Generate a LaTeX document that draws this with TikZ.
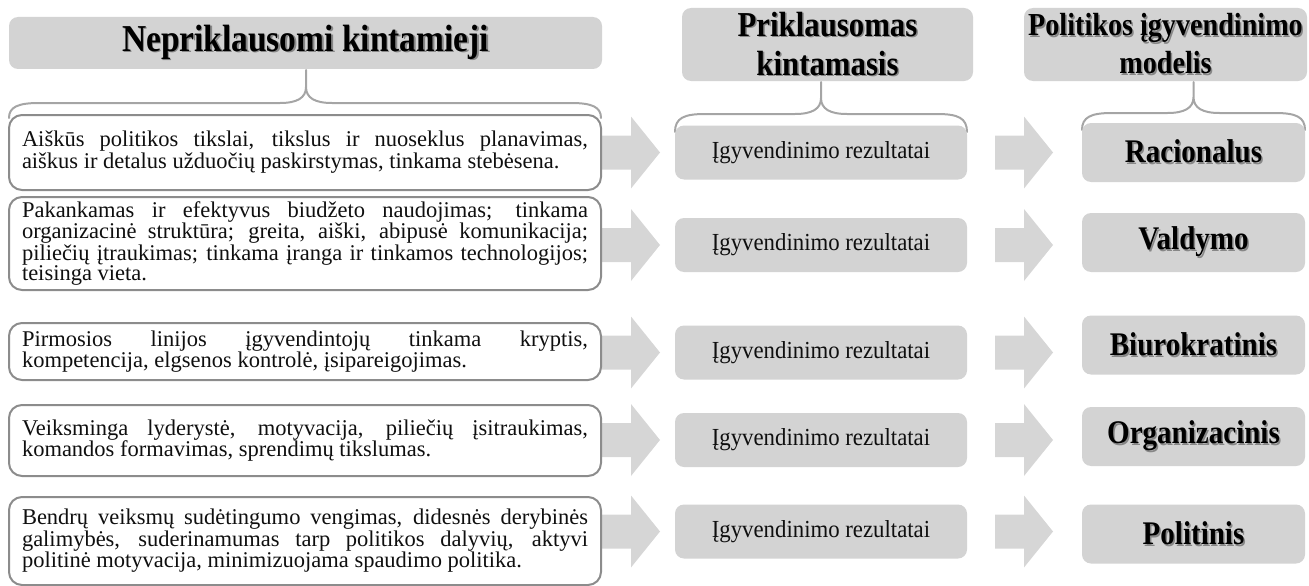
\documentclass[tikz,border=0pt]{standalone}
\usepackage{fontspec}
\setmainfont{Liberation Serif}
\newfontfamily\hdfont{Liberation Serif}[FakeStretch=0.88]
\newfontfamily\midfont{Liberation Serif}[FakeStretch=0.93]
\usetikzlibrary{calc}
\tolerance=10000
\hbadness=10000
\definecolor{boxgray}{RGB}{211,211,211}
\definecolor{arrgray}{RGB}{214,214,214}
\definecolor{edgegray}{RGB}{140,140,140}
\definecolor{bracegray}{RGB}{165,165,165}
\definecolor{txt}{RGB}{15,15,15}
\definecolor{shadowc}{RGB}{135,135,135}
\newcommand\shd[1]{\leavevmode\rlap{\kern1.5pt\raisebox{-1.5pt}{\textcolor{shadowc}{#1}}}#1}
\newcommand\blockarrow[2]{\fill[bigarrow] ($(#1)+(0,-17)$) -- ($(#2)+(-29,-17)$) -- ($(#2)+(-29,-36)$) -- (#2) -- ($(#2)+(-29,36)$) -- ($(#2)+(-29,17)$) -- ($(#1)+(0,17)$) -- cycle;}
% xl xr xt yt yh yb
\newcommand\drawbrace[6]{\draw[bracec] (#1,#6) .. controls (#1,{#5+4}) and ({#1+9},#5) .. ({#1+30},#5) -- ({#3-26},#5) .. controls ({#3-9},#5) and (#3,{#5-5}) .. (#3,{#5-16}) -- (#3,#4) -- (#3,{#5-16}) .. controls (#3,{#5-5}) and ({#3+9},#5) .. ({#3+26},#5) -- ({#2-30},#5) .. controls ({#2-9},#5) and (#2,{#5+4}) .. (#2,#6);}
\pgfdeclarelayer{bg}
\pgfsetlayers{bg,main}
\tikzset{
 graybox/.style={rectangle, rounded corners=9pt, fill=boxgray, inner sep=0pt, outer sep=0pt, align=center, text=black},
 leftbox/.style={rectangle, rounded corners=13pt, draw=edgegray, line width=2pt, fill=white, text width=566pt, inner xsep=13pt, inner ysep=0pt, outer sep=0pt, align=justify, font=\fontsize{22.5}{19.5}\selectfont, text=txt},
 midbox/.style={graybox, minimum width=292pt, minimum height=54pt, font=\midfont\fontsize{24.5}{26}\selectfont, text=txt},
 modelbox/.style={graybox, minimum width=223pt, minimum height=59pt, font=\hdfont\bfseries\fontsize{33}{36}\selectfont},
 headbox/.style={graybox, font=\hdfont\bfseries},
 bigarrow/.style={fill=arrgray},
 bracec/.style={draw=bracegray, line width=2pt, line join=round, line cap=round},
}
\begin{document}
\begin{tikzpicture}[x=1pt,y=-1pt]
\useasboundingbox (0,0) rectangle (1309,586);
% headers
\node[headbox, minimum width=593pt, minimum height=52pt, font=\hdfont\bfseries\fontsize{38}{40}\selectfont] (H1) at (305.5,43) {\shd{Nepriklausomi kintamieji}};
\node[headbox, minimum width=291pt, minimum height=73pt, font=\hdfont\bfseries\fontsize{35}{39}\selectfont] (H2) at (827.5,44.5) {\shd{Priklausomas}\\\shd{kintamasis}};
\node[headbox, minimum width=283pt, minimum height=73pt, font=\hdfont\bfseries\fontsize{32}{38}\selectfont] (H3) at (1165.5,44.5) {\shd{Politikos įgyvendinimo}\\\shd{modelis}};
% left boxes
\node[leftbox, minimum height=75pt, font=\fontsize{22.5}{22}\selectfont] (L1) at (305,152.5) {Aiškūs politikos tikslai, tikslus ir nuoseklus planavimas,\linebreak aiškus ir detalus užduočių paskirstymas, tinkama stebėsena.};
\node[leftbox, minimum height=93pt] (L2) at (305,243.5) {Pakankamas ir efektyvus biudžeto naudojimas; tinkama\linebreak organizacinė struktūra; greita, aiški, abipusė komunikacija;\linebreak piliečių įtraukimas; tinkama įranga ir tinkamos technologijos;\linebreak teisinga vieta.};
\node[leftbox, minimum height=57pt, font=\fontsize{22.5}{20}\selectfont] (L3) at (305,351.5) {Pirmosios linijos įgyvendintojų tinkama kryptis,\linebreak kompetencija, elgsenos kontrolė, įsipareigojimas.};
\node[leftbox, minimum height=71pt] (L4) at (305,440.5) {Veiksminga lyderystė, motyvacija, piliečių įsitraukimas,\linebreak komandos formavimas, sprendimų tikslumas.};
\node[leftbox, minimum height=88pt] (L5) at (305,541) {Bendrų veiksmų sudėtingumo vengimas, didesnės derybinės\linebreak galimybės, suderinamumas tarp politikos dalyvių, aktyvi\linebreak politinė motyvacija, minimizuojama spaudimo politika.};
% middle boxes
\node[midbox] (M1) at (821,152.5) {Įgyvendinimo rezultatai};
\node[midbox] (M2) at (821,245) {Įgyvendinimo rezultatai};
\node[midbox] (M3) at (821,352.5) {Įgyvendinimo rezultatai};
\node[midbox] (M4) at (821,440) {Įgyvendinimo rezultatai};
\node[midbox] (M5) at (821,531.5) {Įgyvendinimo rezultatai};
% model boxes
\node[modelbox] (R1) at (1193.5,152.5) {\shd{Racionalus}};
\node[modelbox] (R2) at (1193.5,242.5) {\shd{Valdymo}};
\node[modelbox] (R3) at (1193.5,345) {\shd{Biurokratinis}};
\node[modelbox] (R4) at (1193.5,436.5) {\shd{Organizacinis}};
\node[modelbox] (R5) at (1193.5,534) {\shd{Politinis}};
% arrows and braces behind
\begin{pgfonlayer}{bg}
\foreach \i in {1,...,5}{
  \coordinate (as\i) at ($(L\i.east |- M\i.west)+(-10,0)$);
  \coordinate (at\i) at ($(M\i.west)+(-15,0)$);
  \coordinate (bs\i) at ($(M\i.east)+(28,0)$);
  \coordinate (bt\i) at ($(R\i.west |- M\i.west)+(-29,0)$);
  \blockarrow{as\i}{at\i}
  \blockarrow{bs\i}{bt\i}
}
\drawbrace{9}{601}{306}{70}{103}{118}
\drawbrace{675}{967}{821}{82}{114}{132}
\drawbrace{1082}{1305}{1193.5}{82}{113}{130}
\end{pgfonlayer}
\end{tikzpicture}
\end{document}
